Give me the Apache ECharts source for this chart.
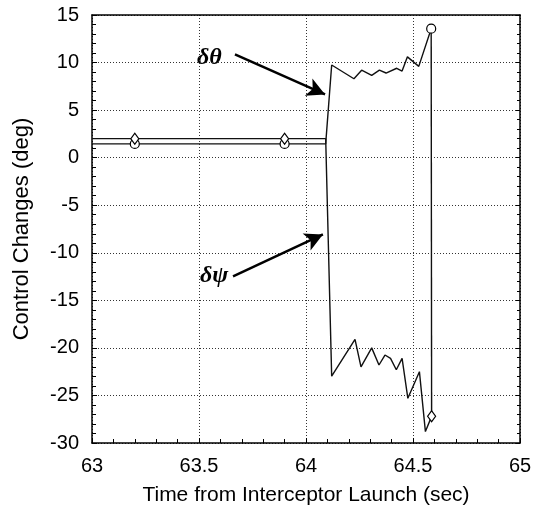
<!DOCTYPE html>
<html>
<head>
<meta charset="utf-8">
<script src="https://cdn.jsdelivr.net/npm/echarts@6/dist/echarts.min.js"></script>
<style>html,body{margin:0;padding:0;background:#fff;}#chart{width:537px;height:519px;}</style>
</head>
<body>
<div id="chart"></div>
<script>
// Data
var thetaTime = [63.0, 63.2, 63.9, 64.092, 64.12, 64.224, 64.26, 64.307, 64.343, 64.374, 64.424, 64.449, 64.474, 64.527, 64.585];
var thetaVal  = [1.45, 1.45, 1.45, 1.45, 9.74, 8.3, 9.2, 8.65, 9.2, 8.9, 9.4, 9.1, 10.6, 9.6, 13.56];
var psiTime = [63.0, 63.2, 63.9, 64.092, 64.12, 64.229, 64.257, 64.307, 64.341, 64.369, 64.395, 64.422, 64.449, 64.476, 64.53, 64.558, 64.587];
var psiVal  = [2.0, 2.0, 2.0, 2.0, -22.97, -19.1, -22.0, -20.0, -21.8, -20.75, -21.1, -22.3, -21.1, -25.3, -22.5, -28.8, -27.2];
var markerIdxTheta = [1, 2, 14];
var markerIdxPsi = [1, 2, 16];
var xTicks = [63, 63.5, 64, 64.5, 65];
var yTicks = [-30, -25, -20, -15, -10, -5, 0, 5, 10, 15];
var arrowTheta = [[63.668, 10.86], [64.089, 6.65]];
var arrowPsi = [[63.659, -12.48], [64.079, -8.07]];

var FONT = 'Liberation Sans, Arial, sans-serif';

function buildData(ts, vs, idx, sym, size) {
  return ts.map(function (t, i) {
    var item = { value: [t, vs[i]] };
    if (idx.indexOf(i) >= 0) { item.symbol = sym; item.symbolSize = size; }
    else { item.symbol = 'none'; }
    return item;
  });
}

var chart = echarts.init(document.getElementById('chart'));
var gridLine = { show: true, lineStyle: { color: '#333', type: [1, 2], width: 1 } };
chart.setOption({
  animation: false,
  backgroundColor: '#fff',
  grid: { left: 92, right: 17, top: 15, bottom: 76 },
  xAxis: [{
    type: 'value', min: xTicks[0], max: xTicks[xTicks.length - 1], interval: 0.5,
    name: 'Time from Interceptor Launch (sec)', nameLocation: 'middle', nameGap: 42,
    nameTextStyle: { fontFamily: FONT, fontSize: 21, color: '#000' },
    axisLine: { show: true, onZero: false, lineStyle: { color: '#000', width: 1.5 } },
    axisTick: { show: true, inside: true, length: 5, lineStyle: { color: '#000' } },
    minorTick: { show: true, splitNumber: 5, length: 4, lineStyle: { color: '#000' } },
    axisLabel: { fontFamily: FONT, fontSize: 20, color: '#000', margin: 13 },
    splitLine: gridLine
  }, {
    type: 'value', position: 'top', min: 63, max: 65,
    axisLine: { show: true, onZero: false, lineStyle: { color: '#000', width: 1.5 } },
    axisTick: { show: false }, axisLabel: { show: false }, splitLine: { show: false }
  }],
  yAxis: [{
    type: 'value', min: yTicks[0], max: yTicks[yTicks.length - 1], interval: 5,
    name: 'Control Changes (deg)', nameLocation: 'middle', nameGap: 59,
    nameTextStyle: { fontFamily: FONT, fontSize: 22, color: '#000' },
    axisLine: { show: true, onZero: false, lineStyle: { color: '#000', width: 1.5 } },
    axisTick: { show: true, inside: true, length: 5, lineStyle: { color: '#000' } },
    minorTick: { show: true, splitNumber: 5, length: 4, lineStyle: { color: '#000' } },
    axisLabel: { fontFamily: FONT, fontSize: 20, color: '#000', margin: 13 },
    splitLine: gridLine
  }, {
    type: 'value', position: 'right', min: -30, max: 15, interval: 5,
    axisLine: { show: true, onZero: false, lineStyle: { color: '#000', width: 1.5 } },
    axisTick: { show: true, inside: true, length: 4, lineStyle: { color: '#000' } },
    minorTick: { show: true, splitNumber: 5, length: 3, lineStyle: { color: '#000' } },
    axisLabel: { show: false }, splitLine: { show: false }
  }],
  series: [{
    name: 'δθ', type: 'line', showSymbol: true,
    data: buildData(thetaTime, thetaVal, markerIdxTheta, 'circle', 9),
    lineStyle: { color: '#111', width: 1.4 },
    itemStyle: { color: '#fff', borderColor: '#000', borderWidth: 1.2 },
    z: 3,
    markLine: {
      silent: true, symbol: ['none', 'arrow'], symbolSize: [14, 18],
      lineStyle: { color: '#000', width: 2.5, type: 'solid' },
      label: { show: false },
      data: [[{ coord: arrowTheta[0] }, { coord: arrowTheta[1] }]]
    }
  }, {
    name: 'δψ', type: 'line', showSymbol: true,
    data: buildData(psiTime, psiVal, markerIdxPsi, 'diamond', [8, 11]),
    lineStyle: { color: '#111', width: 1.4 },
    itemStyle: { color: '#fff', borderColor: '#000', borderWidth: 1.2 },
    z: 4,
    markLine: {
      silent: true, symbol: ['none', 'arrow'], symbolSize: [14, 18],
      lineStyle: { color: '#000', width: 2.5, type: 'solid' },
      label: { show: false },
      data: [[{ coord: arrowPsi[0] }, { coord: arrowPsi[1] }]]
    }
  }, {
    name: 'link', type: 'line', showSymbol: false, symbol: 'none',
    data: [[thetaTime[thetaTime.length - 1], thetaVal[thetaVal.length - 1]],
           [psiTime[psiTime.length - 1], psiVal[psiVal.length - 1]]],
    lineStyle: { color: '#111', width: 1.4 }, z: 2
  }],
  graphic: [
    { type: 'text', left: 197, top: 46, style: { text: 'δθ', font: 'italic bold 24px "Liberation Serif", serif', fill: '#000' } },
    { type: 'text', left: 200, top: 264, style: { text: 'δψ', font: 'italic bold 24px "Liberation Serif", serif', fill: '#000' } }
  ]
});
</script>
</body>
</html>
